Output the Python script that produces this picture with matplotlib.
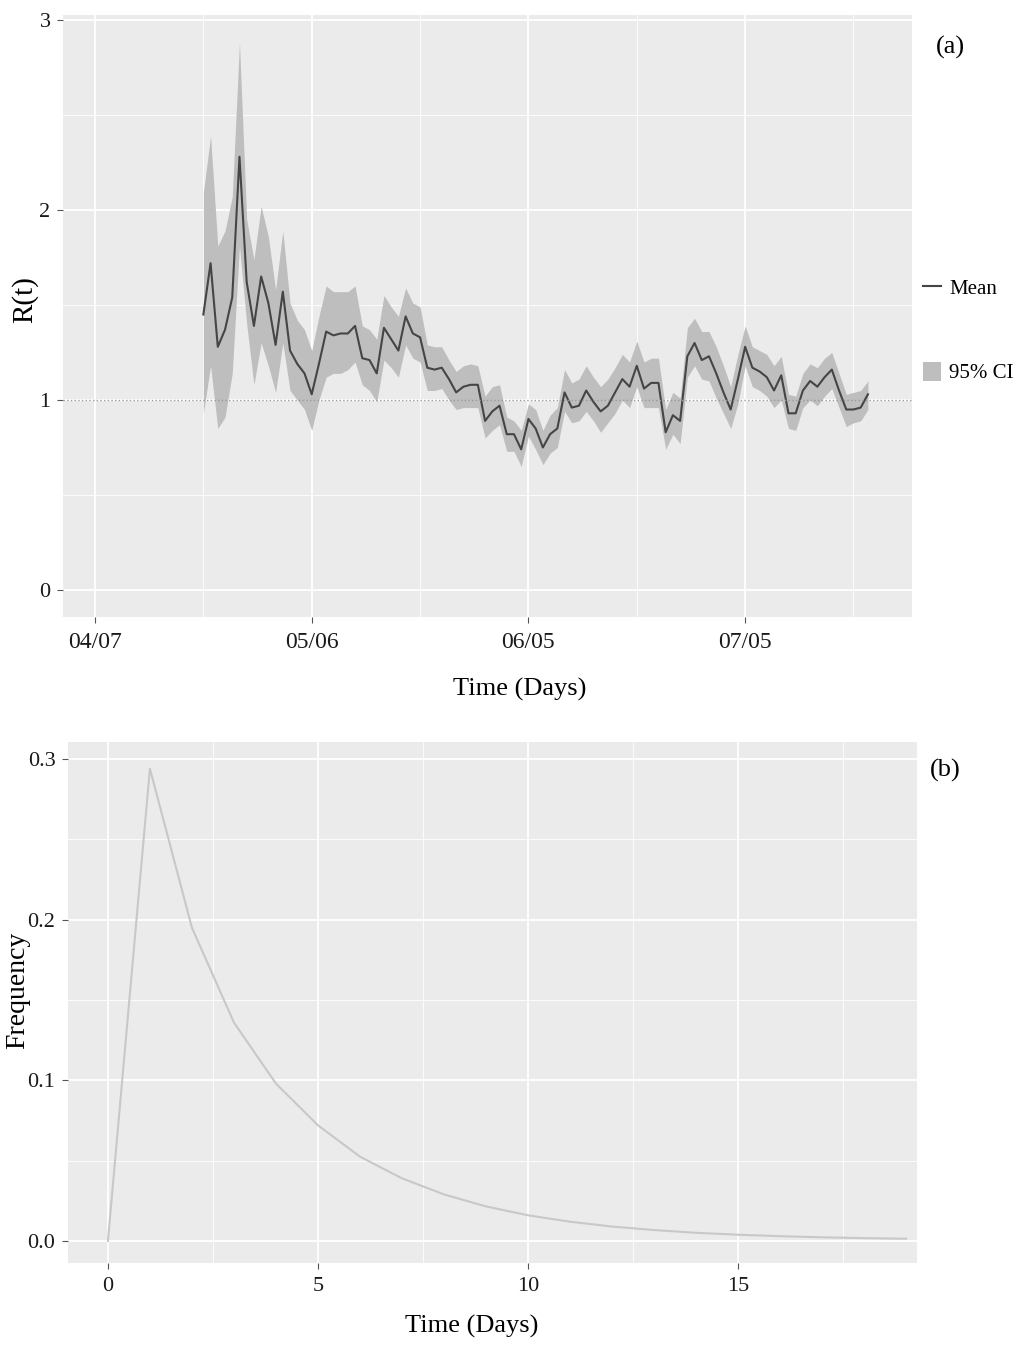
import matplotlib
matplotlib.use("Agg")
import matplotlib.pyplot as plt
from matplotlib.lines import Line2D
from matplotlib.patches import Patch
from matplotlib.ticker import MultipleLocator

plt.rcParams['font.family'] = ['Liberation Serif', 'DejaVu Serif']

# (a) instantaneous reproduction number, one value per day since 04/07
days = list(range(15, 108))
r_mean = [1.45, 1.72, 1.28, 1.37, 1.54, 2.28, 1.62, 1.39, 1.65, 1.51,
          1.29, 1.57, 1.26, 1.19, 1.14, 1.03, 1.19, 1.36, 1.34, 1.35,
          1.35, 1.39, 1.22, 1.21, 1.14, 1.38, 1.32, 1.26, 1.44, 1.35,
          1.33, 1.17, 1.16, 1.17, 1.11, 1.04, 1.07, 1.08, 1.08, 0.89,
          0.94, 0.97, 0.82, 0.82, 0.74, 0.90, 0.85, 0.75, 0.82, 0.85,
          1.04, 0.96, 0.97, 1.05, 0.99, 0.94, 0.97, 1.04, 1.11, 1.07,
          1.18, 1.06, 1.09, 1.09, 0.83, 0.92, 0.89, 1.23, 1.30, 1.21,
          1.23, 1.14, 1.04, 0.95, 1.11, 1.28, 1.17, 1.15, 1.12, 1.05,
          1.13, 0.93, 0.93, 1.05, 1.10, 1.07, 1.12, 1.16, 1.05, 0.95,
          0.95, 0.96, 1.03]
r_upper = [2.09, 2.39, 1.81, 1.89, 2.07, 2.88, 1.95, 1.74, 2.02, 1.86,
           1.58, 1.89, 1.51, 1.42, 1.37, 1.26, 1.44, 1.60, 1.57, 1.57,
           1.57, 1.60, 1.39, 1.37, 1.32, 1.55, 1.49, 1.44, 1.59, 1.51,
           1.49, 1.29, 1.28, 1.28, 1.21, 1.15, 1.18, 1.19, 1.18, 1.02,
           1.07, 1.08, 0.91, 0.89, 0.84, 0.98, 0.95, 0.84, 0.92, 0.96,
           1.16, 1.09, 1.11, 1.18, 1.12, 1.07, 1.11, 1.17, 1.24, 1.20,
           1.31, 1.20, 1.22, 1.22, 0.95, 1.04, 1.01, 1.38, 1.43, 1.36,
           1.36, 1.28, 1.18, 1.07, 1.24, 1.39, 1.28, 1.26, 1.24, 1.18,
           1.23, 1.03, 1.02, 1.14, 1.19, 1.17, 1.22, 1.25, 1.14, 1.03,
           1.04, 1.05, 1.10]
r_lower = [0.93, 1.18, 0.85, 0.91, 1.14, 1.81, 1.40, 1.08, 1.30, 1.18,
           1.04, 1.30, 1.05, 1.00, 0.95, 0.84, 1.00, 1.12, 1.14, 1.14,
           1.16, 1.20, 1.08, 1.05, 0.99, 1.21, 1.17, 1.12, 1.29, 1.22,
           1.20, 1.05, 1.05, 1.06, 1.00, 0.95, 0.96, 0.96, 0.96, 0.80,
           0.84, 0.87, 0.73, 0.73, 0.65, 0.81, 0.74, 0.66, 0.72, 0.75,
           0.94, 0.88, 0.89, 0.94, 0.89, 0.83, 0.88, 0.93, 1.00, 0.96,
           1.07, 0.96, 0.96, 0.96, 0.74, 0.82, 0.77, 1.12, 1.18, 1.11,
           1.10, 1.01, 0.93, 0.85, 0.98, 1.18, 1.07, 1.05, 1.02, 0.96,
           1.00, 0.85, 0.84, 0.96, 1.00, 0.97, 1.02, 1.06, 0.96, 0.86,
           0.88, 0.89, 0.95]
date_ticks = [0, 30, 60, 90]
date_labels = ['04/07', '05/06', '06/05', '07/05']

# (b) serial interval distribution
si_days = list(range(0, 20))
si_freq = [0.0, 0.294, 0.195, 0.136, 0.098, 0.072, 0.0525, 0.039, 0.029, 0.0215,
           0.016, 0.012, 0.009, 0.0068, 0.0051, 0.0039, 0.003, 0.0023, 0.0018, 0.0014]

W, H = 1020, 1345
fig = plt.figure(figsize=(W / 100, H / 100), dpi=100, facecolor='white')


def gg_axes(rect):
    ax = fig.add_axes(rect)
    ax.set_facecolor('#ebebeb')
    for s in ax.spines.values():
        s.set_visible(False)
    ax.grid(True, which='major', color='white', linewidth=1.3)
    ax.grid(True, which='minor', color='white', linewidth=0.6)
    ax.set_axisbelow(True)
    ax.tick_params(which='major', length=4, width=0.8, color='#555555',
                   labelcolor='#1a1a1a', labelsize=16, pad=5)
    ax.tick_params(which='minor', length=0)
    return ax


# top panel
ax1 = gg_axes([63 / W, 1 - 617 / H, 849 / W, 602 / H])
ax1.fill_between(days, r_lower, r_upper, color='#bebebe', linewidth=0)
ax1.plot(days, r_mean, color='#454545', linewidth=1.5)
ax1.axhline(1, color='#9a9a9a', linestyle=':', linewidth=1.0)
ax1.set_xlim(-4.43, 113.1)
ax1.set_ylim(-0.142, 3.026)
ax1.set_xticks(date_ticks)
ax1.set_xticklabels(date_labels)
ax1.xaxis.set_minor_locator(MultipleLocator(15))
ax1.yaxis.set_major_locator(MultipleLocator(1))
ax1.yaxis.set_minor_locator(MultipleLocator(0.5))
ax1.tick_params(axis='x', labelsize=17, pad=7)
ax1.set_xlabel('Time (Days)', fontsize=19)
ax1.xaxis.set_label_coords(0.538, -0.102)
ax1.set_ylabel('R(t)', fontsize=21)
ax1.yaxis.set_label_coords(-0.029, 0.527)

handles = [Line2D([], [], color='#454545', linewidth=1.5),
           Patch(facecolor='#bebebe', edgecolor='none')]
fig.legend(handles, ['Mean', '95% CI'], loc='upper left',
           bbox_to_anchor=(923 / W, 1 - 278 / H), frameon=False,
           fontsize=15, handlelength=0.85, handleheight=1.0,
           handletextpad=0.4, labelspacing=3.0, borderpad=0, borderaxespad=0)
fig.text(950 / W, 1 - 47 / H, '(a)', fontsize=19, ha='center', va='center')

# bottom panel
ax2 = gg_axes([68 / W, 1 - 1263 / H, 849 / W, 521 / H])
ax2.plot(si_days, si_freq, color='#c8c8c8', linewidth=1.5)
ax2.set_xlim(-0.95, 19.26)
ax2.set_ylim(-0.0137, 0.3106)
ax2.xaxis.set_major_locator(MultipleLocator(5))
ax2.xaxis.set_minor_locator(MultipleLocator(2.5))
ax2.yaxis.set_major_locator(MultipleLocator(0.1))
ax2.yaxis.set_minor_locator(MultipleLocator(0.05))
ax2.yaxis.set_major_formatter(lambda v, p: f'{v:.1f}')
ax2.tick_params(axis='x', pad=6)
ax2.set_xlabel('Time (Days)', fontsize=19)
ax2.xaxis.set_label_coords(0.475, -0.10)
ax2.set_ylabel('Frequency', fontsize=20)
ax2.yaxis.set_label_coords(-0.045, 0.524)
fig.text(945 / W, 1 - 770 / H, '(b)', fontsize=19, ha='center', va='center')

fig.savefig('out.png', dpi=100, facecolor='white')
